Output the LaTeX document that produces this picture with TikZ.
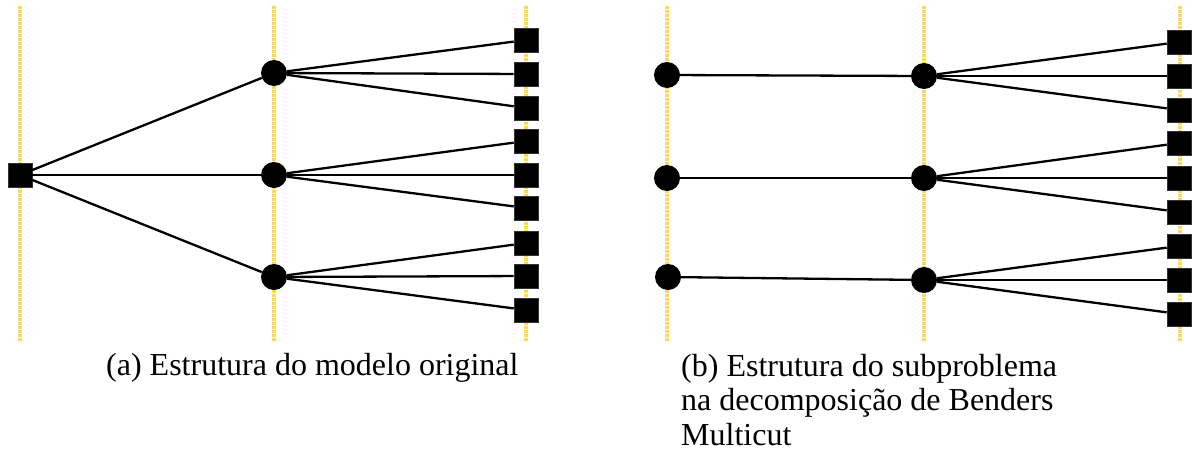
\documentclass[tikz,border=0pt]{standalone}
\usepackage{fontspec}
\setmainfont{Liberation Serif}
\definecolor{guide}{RGB}{255,214,90}
\begin{document}
\begin{tikzpicture}[x=1pt,y=-1pt,
  sq/.style={rectangle,fill=black,draw=black!80,line width=0.6pt,minimum size=24pt,inner sep=0pt},
  cnode/.style={circle,fill=black,minimum size=26pt,inner sep=0pt},
  guideline/.style={draw=guide,line width=3.5pt,dash pattern=on 2.5pt off 1.5pt},
  edge/.style={draw=black,line width=2.3pt},
  caption/.style={font=\fontsize{32}{34.5}\selectfont,inner sep=0pt,align=left}]
\useasboundingbox (0,0) rectangle (1196,453);
% guide lines
\foreach \x/\n in {20/ga,274/gb,526/gc,667/gd,924/ge,1180/gf}{
  \coordinate (\n t) at (\x,6);
  \coordinate (\n b) at (\x,341);
  \path[guideline] (\n t) -- (\n b);
}
% panel (a)
\node[sq] (r) at (20,175) {};
\node[cnode] (a1) at (274,73) {};
\node[cnode] (a2) at (274,175) {};
\node[cnode] (a3) at (274,277) {};
\foreach \i/\y in {1/40,2/74,3/108,4/141,5/175,6/208,7/243,8/276,9/310}{
  \node[sq] (as\i) at (526,\y) {};
}
\foreach \c in {a1,a2,a3} \path[edge] (r) -- (\c);
\foreach \i in {1,2,3} \path[edge] (a1) -- (as\i);
\foreach \i in {4,5,6} \path[edge] (a2) -- (as\i);
\foreach \i in {7,8,9} \path[edge] (a3) -- (as\i);
% panel (b)
\node[cnode] (b1) at (667,75) {};
\node[cnode] (b2) at (667,178) {};
\node[cnode] (b3) at (668,277) {};
\node[cnode] (m1) at (924,76) {};
\node[cnode] (m2) at (924,178) {};
\node[cnode] (m3) at (924,280) {};
\foreach \i/\y in {1/42,2/76,3/110,4/143,5/178,6/212,7/246,8/280,9/314}{
  \node[sq] (bs\i) at (1179,\y) {};
}
\path[edge] (b1) -- (m1);
\path[edge] (b2) -- (m2);
\path[edge] (b3) -- (m3);
\foreach \i in {1,2,3} \path[edge] (m1) -- (bs\i);
\foreach \i in {4,5,6} \path[edge] (m2) -- (bs\i);
\foreach \i in {7,8,9} \path[edge] (m3) -- (bs\i);
% captions
\node[caption,anchor=base west] (capa) at (106,375) {(a) Estrutura do modelo original};
\node[caption,anchor=base west] (capb) at (681,445) {(b) Estrutura do subproblema\\na decomposição de Benders\\Multicut};
\end{tikzpicture}
\end{document}
